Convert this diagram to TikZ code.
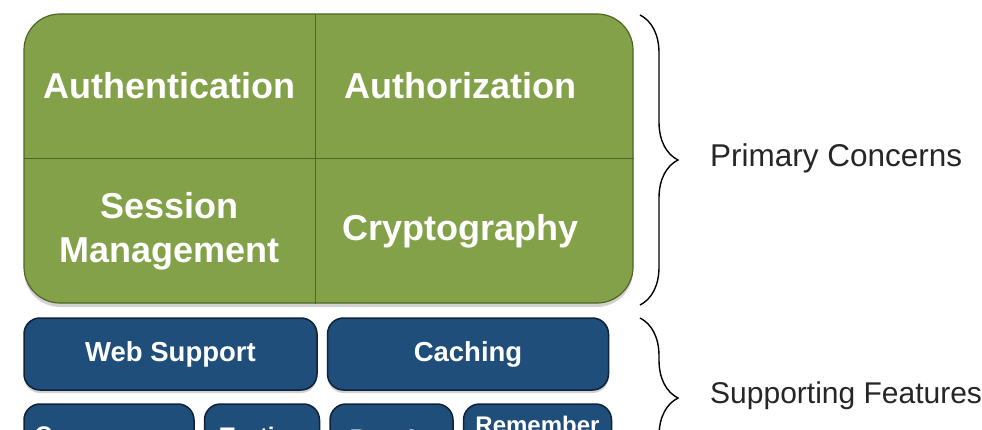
\documentclass[tikz,border=0pt]{standalone}
\usepackage{fontspec}
\setmainfont{Liberation Sans}
\usepackage{xcolor}
\usetikzlibrary{positioning,shadows,decorations.pathreplacing}

\definecolor{coregreen}{RGB}{131,161,72}
\definecolor{coreline}{RGB}{78,102,38}
\definecolor{featblue}{RGB}{31,78,122}
\definecolor{featline}{RGB}{14,34,56}

\begin{document}
\begin{tikzpicture}[x=1pt,y=-1pt,
    core/.style={draw=coreline,line width=1.2pt,fill=coregreen,rounded corners=36pt,
      drop shadow={opacity=0.35,shadow xshift=0pt,shadow yshift=-4pt}},
    cell/.style={inner sep=0pt,text=white,align=center,
      font=\fontsize{36}{44}\selectfont\bfseries},
    divider/.style={draw=coreline,line width=1pt},
    feat/.style={draw=featline,line width=1.5pt,fill=featblue,rounded corners=16pt,
      inner sep=0pt,text=white,align=center,
      drop shadow={opacity=0.35,shadow xshift=0pt,shadow yshift=-3pt}},
    brace/.style={decorate,decoration={brace,amplitude=38pt},line width=1.4pt},
    concern/.style={anchor=west,inner sep=0pt,font=\fontsize{30}{36}\selectfont,text=black!85}]
    \useasboundingbox[fill=white] (0,0) rectangle (982,430);

    % primary concerns
    \node[core,minimum width=609pt,minimum height=289pt] (core) at (328.5,158.5) {};
    \node[cell,minimum width=291pt,minimum height=144pt] (auth) at (169.5,86) {Authentication};
    \node[cell,minimum width=290pt,minimum height=144pt,right=0pt of auth] (authz) {Authorization};
    \node[cell,minimum width=291pt,minimum height=145pt,below=0pt of auth] (session) {Session\\Management};
    \node[cell,minimum width=290pt,minimum height=145pt,right=0pt of session] (crypto) {Cryptography};
    \draw[divider] (auth.north east) -- (session.south east);
    \draw[divider] (auth.south west) -- (auth.south west -| core.east);

    % supporting features
    \node[feat,minimum width=293pt,minimum height=72pt,font=\fontsize{27.5}{32}\selectfont\bfseries] (web) at (170.5,354) {Web Support};
    \node[feat,minimum width=281pt,minimum height=72pt,font=\fontsize{27.5}{32}\selectfont\bfseries,right=9pt of web] (caching) {Caching};
    \node[feat,minimum width=170pt,minimum height=68pt,font=\fontsize{24}{27}\selectfont\bfseries] (conc) at (109,438) {Concurrency};
    \node[feat,minimum width=115pt,minimum height=68pt,font=\fontsize{24}{27}\selectfont\bfseries,right=9pt of conc] (testing) {Testing};
    \node[feat,minimum width=123pt,minimum height=68pt,font=\fontsize{24}{27}\selectfont\bfseries,right=9pt of testing] (runas) {Run As};
    \node[feat,minimum width=148pt,minimum height=68pt,font=\fontsize{24}{27}\selectfont\bfseries,right=9pt of runas] (remember) {Remember\\Me};

    % braces
    \coordinate (pc top) at (640,15);
    \coordinate (pc bot) at (640,305);
    \coordinate (sf top) at (640,318);
    \coordinate (sf bot) at (640,478);
    \draw[brace] (pc top) -- (pc bot);
    \draw[brace] (sf top) -- (sf bot);
    \node[concern,font=\fontsize{31.5}{36}\selectfont] (primary) at (710,158) {Primary Concerns};
    \node[concern] (support) at (710,396) {Supporting Features};
  \end{tikzpicture}
\end{document}
